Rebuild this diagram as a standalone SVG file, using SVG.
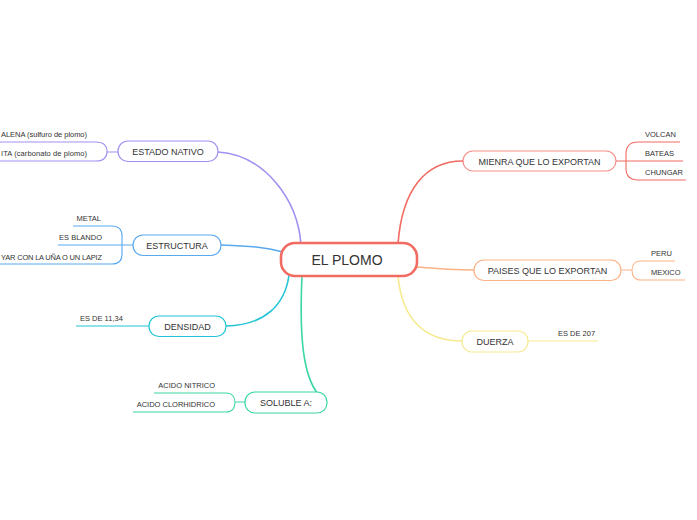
<svg xmlns="http://www.w3.org/2000/svg" width="697" height="520" viewBox="0 0 697 520">
<style>
  text { font-family: "Liberation Sans", Arial, sans-serif; fill: #333; }
  .t { font-size: 9px; text-anchor: middle; }
  .c { font-size: 7.5px; }
  .e { text-anchor: end; }
  .main { font-size: 14px; text-anchor: middle; }
  .node { fill: #fff; stroke-width: 1.2; }
  .conn { fill: none; stroke-width: 1.6; }
  .sub { fill: none; stroke-width: 1.1; }
  .red { stroke: #f26b63; } .pur { stroke: #a38ff2; } .blu { stroke: #5aa9ee; }
  .cya { stroke: #22c4d6; } .grn { stroke: #3ad6a6; } .ora { stroke: #fcb285; } .yel { stroke: #f6e98e; }
</style>
<rect width="697" height="520" fill="#fff"/>
<g id="connectors">
  <path class="conn pur" d="M218,152 C265,155 298,200 301,245"/>
  <path class="conn blu" d="M221,245 C250,246 265,247 283,252"/>
  <path class="conn cya" d="M226,326 C265,325 285,305 289,275"/>
  <path class="conn grn" d="M302,276 C299,340 303,388 327,402"/>
  <path class="conn red" d="M398,244 C402,190 425,161 463,161"/>
  <path class="conn ora" d="M417,267 C440,269 455,270 474,270"/>
  <path class="conn yel" d="M398,276 C402,320 425,341 462,341"/>
  <path class="sub pur" d="M0,142 H96 C104,142 107,146 107,151.5 C107,157 104,161 96,161 H0 M107,152 H118"/>
  <path class="sub blu" d="M73,226 H112 Q122,226 122,236 V254 Q122,264 112,264 H0 M58,245 H133"/>
  <path class="sub cya" d="M76,326 H149"/>
  <path class="sub grn" d="M154,393 H226 C232,393 235,397 235,402.5 C235,408 232,412 226,412 H133 M235,402 H245"/>
  <path class="sub red" d="M680,142 H638 Q626,142 626,154 V168 Q626,180 638,180 H686 M616,161 H683"/>
  <path class="sub ora" d="M675,261 H641 C635,261 632,265 632,270.5 C632,276 635,280 641,280 H685 M621,270 H632"/>
  <path class="sub yel" d="M528,341 H598"/>
</g>
<g id="el-plomo">
  <rect x="281" y="243" width="136" height="33" rx="14" fill="#fff" stroke="#f26b63" stroke-width="2.6"/>
  <text class="main" x="347" y="265">EL PLOMO</text>
</g>
<g id="estado-nativo">
  <rect class="node pur" x="118" y="141" width="100" height="20.5" rx="10"/>
  <text class="t" x="168" y="155">ESTADO NATIVO</text>
  <text class="c" x="1" y="137" textLength="86" lengthAdjust="spacing">ALENA (sulfuro de plomo)</text>
  <text class="c" x="1" y="156" textLength="86" lengthAdjust="spacing">ITA (carbonato de plomo)</text>
</g>
<g id="estructura">
  <rect class="node blu" x="133" y="235" width="88" height="20.5" rx="10"/>
  <text class="t" x="177" y="249">ESTRUCTURA</text>
  <text class="c e" x="101" y="221">METAL</text>
  <text class="c e" x="102" y="240">ES BLANDO</text>
  <text class="c" x="1" y="259.5" textLength="101" lengthAdjust="spacing">YAR CON LA UÑA O UN LAPIZ</text>
</g>
<g id="densidad">
  <rect class="node cya" x="149" y="316" width="77" height="20.5" rx="10"/>
  <text class="t" x="187.5" y="330">DENSIDAD</text>
  <text class="c" x="80" y="321">ES DE 11,34</text>
</g>
<g id="soluble">
  <rect class="node grn" x="245" y="392" width="82" height="21" rx="10"/>
  <text class="t" x="286" y="406">SOLUBLE A:</text>
  <text class="c e" x="215" y="387.5">ACIDO NITRICO</text>
  <text class="c e" x="215" y="407">ACIDO CLORHIDRICO</text>
</g>
<g id="mienra">
  <rect class="node red" x="463" y="151" width="153" height="20" rx="10" stroke-opacity="0.75"/>
  <text class="t" x="539.5" y="165">MIENRA QUE LO EXPORTAN</text>
  <text class="c" x="645" y="137">VOLCAN</text>
  <text class="c" x="645" y="156">BATEAS</text>
  <text class="c" x="645" y="175">CHUNGAR</text>
</g>
<g id="paises">
  <rect class="node ora" x="474" y="260" width="147" height="20.5" rx="10"/>
  <text class="t" x="547.5" y="274">PAISES QUE LO EXPORTAN</text>
  <text class="c" x="651" y="256">PERU</text>
  <text class="c" x="651" y="275">MEXICO</text>
</g>
<g id="duerza">
  <rect class="node yel" x="462" y="331" width="66" height="21" rx="10"/>
  <text class="t" x="495" y="345">DUERZA</text>
  <text class="c" x="558" y="336">ES DE 207</text>
</g>
</svg>
